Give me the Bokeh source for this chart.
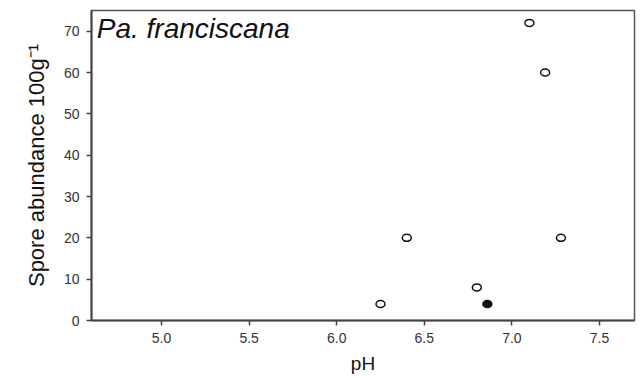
from bokeh.plotting import figure
from bokeh.models import Label, Range1d, FixedTicker
from bokeh.embed import file_html
from bokeh.resources import INLINE

ph_open = [6.25, 6.40, 6.80, 7.10, 7.19, 7.28]
abund_open = [4, 20, 8, 72, 60, 20]
ph_filled = [6.86]
abund_filled = [4]
x_ticks = [5.0, 5.5, 6.0, 6.5, 7.0, 7.5]
y_ticks = [0, 10, 20, 30, 40, 50, 60, 70]

p = figure(width=640, height=377, output_backend="svg", toolbar_location=None,
           x_range=Range1d(4.6, 7.7), y_range=Range1d(0, 75),
           min_border_left=91, min_border_right=6, min_border_top=10, min_border_bottom=57)
p.xgrid.visible = False
p.ygrid.visible = False
p.background_fill_color = "white"
p.border_fill_color = "white"
p.outline_line_color = "#555555"
p.outline_line_width = 1.5

for ax in (p.xaxis[0], p.yaxis[0]):
    ax.axis_line_color = "#444444"
    ax.axis_line_width = 2
    ax.major_tick_line_color = "#444444"
    ax.major_tick_line_width = 1.5
    ax.major_tick_out = 5
    ax.major_tick_in = 0
    ax.minor_tick_line_color = None
    ax.major_label_text_font = "Liberation Sans"
    ax.major_label_text_font_size = "14px"
    ax.major_label_text_color = "#333333"
    ax.axis_label_text_font = "Liberation Sans"
    ax.axis_label_text_font_style = "normal"
    ax.axis_label_text_color = "#111111"

p.xaxis[0].ticker = FixedTicker(ticks=x_ticks)
p.yaxis[0].ticker = FixedTicker(ticks=y_ticks)
p.xaxis[0].major_label_overrides = {t: f"{t:.1f}" for t in x_ticks}
p.xaxis[0].major_label_standoff = 7
p.yaxis[0].major_label_standoff = 7
p.xaxis.axis_label = "pH"
p.xaxis.axis_label_text_font_size = "19px"
p.yaxis.axis_label = "Spore abundance 100g\u207b\u00b9"
p.yaxis.axis_label_text_font_size = "22px"
p.yaxis.axis_label_standoff = 12
p.xaxis.axis_label_standoff = 7

p.ellipse(ph_open, abund_open, width=9, height=7, width_units="screen", height_units="screen",
          fill_color="white", line_color="#111111", line_width=1.5)
p.ellipse(ph_filled, abund_filled, width=9, height=7, width_units="screen", height_units="screen",
          fill_color="#111111", line_color="#111111", line_width=1.5)

p.add_layout(Label(x=4.63, y=75, y_offset=-2, text="Pa. franciscana", text_font="Liberation Sans",
                   text_font_style="italic", text_font_size="28px", text_color="#111111",
                   text_baseline="top"))

open("out.html", "w").write(file_html(p, INLINE))
